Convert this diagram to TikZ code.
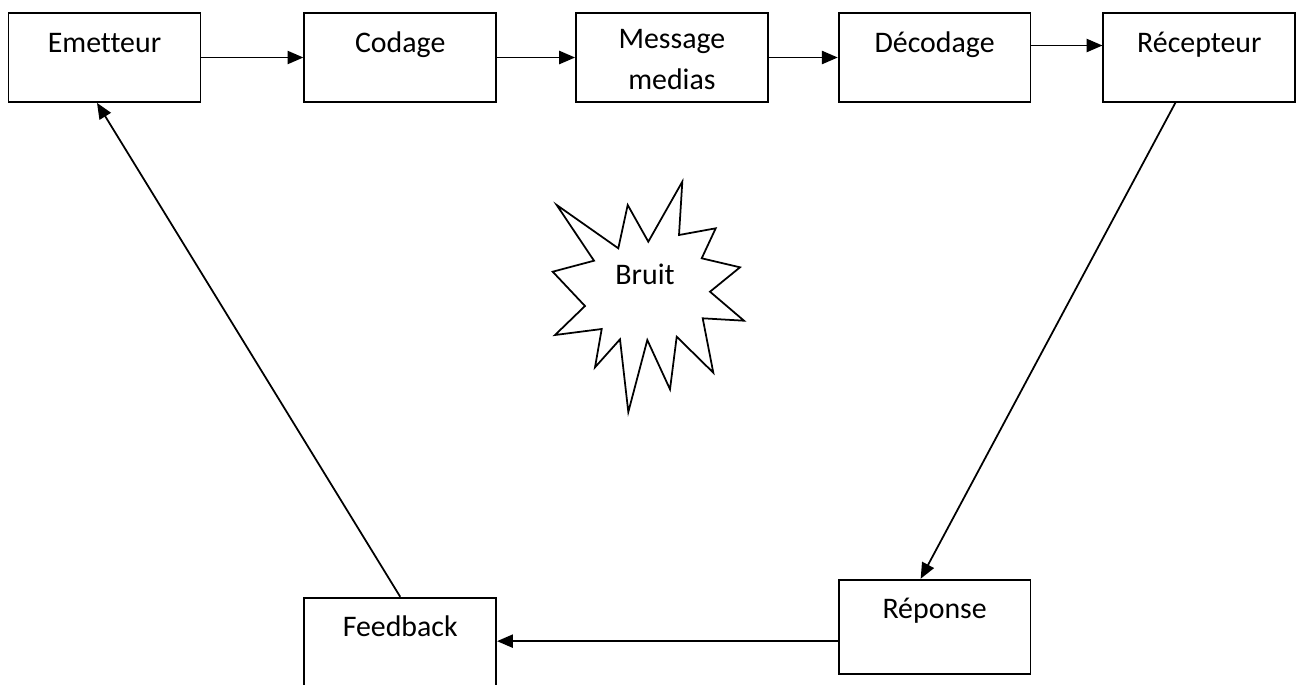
\documentclass[tikz,border=0pt]{standalone}
\usepackage{fontspec}
\setmainfont{Carlito}[Ligatures=NoCommon]
\usetikzlibrary{positioning,arrows.meta}

\begin{document}
\begin{tikzpicture}[
x=0.02cm,
y=-0.02cm,
box/.style={
  draw,
  line width=1pt,
  rectangle,
  inner sep=0pt,
  minimum width=3.84cm,
  text height=0.78cm,
  text depth=1.0cm,
  align=center,
  font=\fontsize{17}{23}\selectfont
  },
arr/.style={
  line width=1pt,
  -{Triangle[length=9pt,width=7.5pt]}
  },
node distance=1.6cm
]
\clip (0,0) rectangle (1300,684);

% top row
\node[box] (emetteur) at (104.5,57.5) {Emetteur};
\node[box,right=2.04cm of emetteur] (codage) {Codage};
\node[box,right=1.56cm of codage,text height=1.52cm,text depth=0.26cm] (message) {Message\\medias};
\node[box,right=1.38cm of message] (decodage) {Décodage};
\node[box,right=1.42cm of decodage] (recepteur) {Récepteur};

% bottom row
\node[box,below=9.52cm of decodage,text depth=1.1cm] (reponse) {Réponse};
\node[box,below=9.88cm of codage,text depth=1.2cm] (feedback) {Feedback};

% noise
\draw[line width=1pt] (556.7,205) -- (618.3,248.3) -- (627.7,205) -- (648.3,241.7)
  -- (682.3,181.7) -- (679,235) -- (715.7,228.3) -- (701.7,258.3) -- (740,267.3)
  -- (710,291.7) -- (744,320.7) -- (702.7,318.3) -- (713.3,372.7) -- (676.7,336.7)
  -- (670,389.3) -- (647.3,340) -- (628.3,412) -- (620,339.3) -- (595,367.3)
  -- (601.7,329) -- (555,335) -- (585,306) -- (552.7,271.7) -- (594,260.7) -- cycle;
\node[font=\fontsize{17}{23}\selectfont] (bruit) at (645,274) {Bruit};

\draw[arr] (emetteur) -- (codage);
\draw[arr] (codage) -- (message);
\draw[arr] (message) -- (decodage);
\draw[arr] ([yshift=0.24cm]decodage.east) -- ([yshift=0.24cm]recepteur.west);
\draw[arr] ([xshift=-0.48cm]recepteur.south) -- ([xshift=-0.28cm]reponse.north);
\draw[arr] ([yshift=-0.29cm]reponse.west) -- ([yshift=-0.29cm]reponse.west -| feedback.east);
\draw[arr] (feedback.north) -- ([xshift=-0.15cm]emetteur.south);

\end{tikzpicture}
\end{document}
